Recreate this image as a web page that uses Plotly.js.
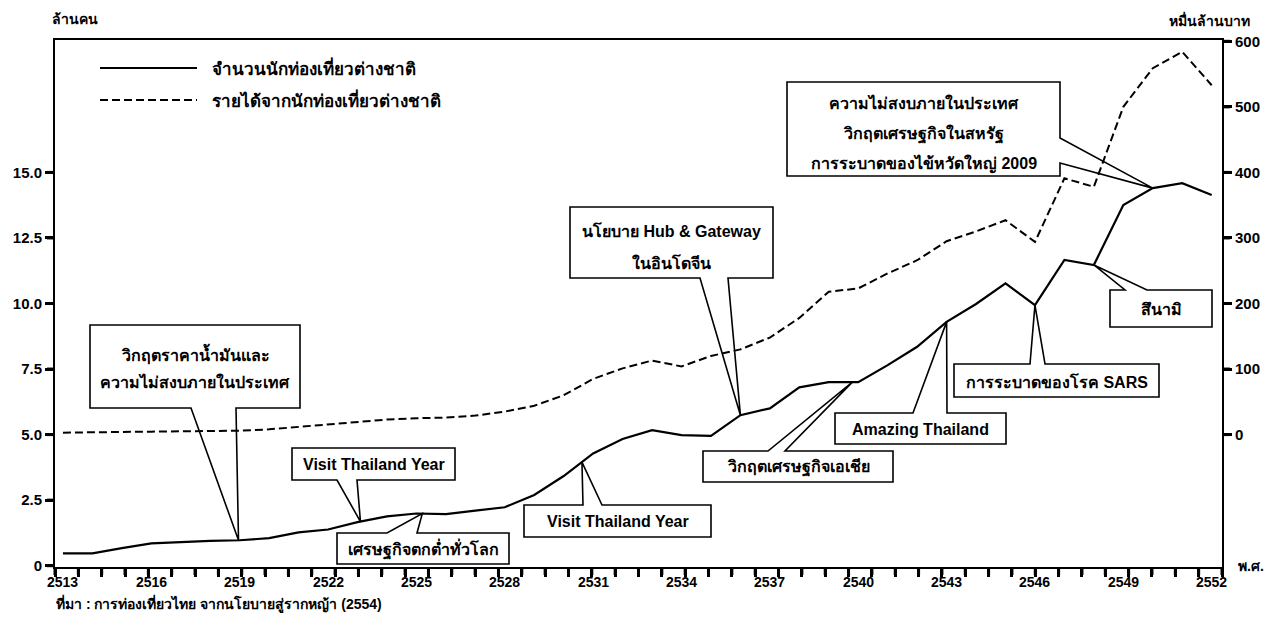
<!DOCTYPE html>
<html><head><meta charset="utf-8">
<script src="https://cdn.plot.ly/plotly-3.0.1.min.js"></script>
<style>html,body{margin:0;padding:0;background:#fff}#chart{width:1271px;height:634px}</style>
</head><body><div id="chart"></div>
<script>
// ---- data ----
const years = [2513,2514,2515,2516,2517,2518,2519,2520,2521,2522,2523,2524,2525,2526,2527,2528,2529,2530,2531,2532,2533,2534,2535,2536,2537,2538,2539,2540,2541,2542,2543,2544,2545,2546,2547,2548,2549,2550,2551,2552];
const tourists = [0.47,0.47,0.67,0.85,0.90,0.95,0.97,1.05,1.27,1.38,1.66,1.88,1.99,1.97,2.10,2.23,2.70,3.42,4.28,4.83,5.17,4.98,4.95,5.74,6.00,6.80,7.00,7.00,7.65,8.35,9.30,9.98,10.77,9.94,11.66,11.47,13.76,14.40,14.59,14.14];
const revenue = [3,3,4,4.5,5,5,6,8,12,16,20,23,25,26,29,35,44,60,85,101,113,104,120,130,148,178,218,223,246,266,295,310,327,294,391,378,500,559,584,533];
const seriesNames = ['จำนวนนักท่องเที่ยวต่างชาติ','รายได้จากนักท่องเที่ยวต่างชาติ'];
const xTickYears = [2513,2516,2519,2522,2525,2528,2531,2534,2537,2540,2543,2546,2549,2552];
const leftTickVals = [0,2.5,5,7.5,10,12.5,15];
const leftTickText = ['0','2.5','5.0','7.5','10.0','12.5','15.0'];
const rightTickVals = [0,100,200,300,400,500,600];
const leftTitle = 'ล้านคน';
const rightTitle = 'หมื่นล้านบาท';
const xUnit = 'พ.ศ.';
const sourceText = 'ที่มา : การท่องเที่ยวไทย จากนโยบายสู่รากหญ้า (2554)';

// ---- layout geometry ----
const W = 1271, H = 634;
const PL = 55, PR = 1222, PT = 40, PB = 567;
const xRange = [2512.73, 2552.35];
const yRange = [-0.05, 20.05];
const y2Range = [(yRange[0]-5)*40, (yRange[1]-5)*40];
const FONT = 'Liberation Sans, Noto Sans, DejaVu Sans, sans-serif';
const N_XTICKS = 50;
const TL = 8;

function px2x(p){return xRange[0]+(p-PL)/(PR-PL)*(xRange[1]-xRange[0]);}
function py2y(p){return yRange[0]+(PB-p)/(PB-PT)*(yRange[1]-yRange[0]);}
function paperX(p){return (p-PL)/(PR-PL);}
function paperY(p){return (PB-p)/(PB-PT);}
function interp(xs,ys,x){for(let i=0;i<xs.length-1;i++){if(x>=xs[i]&&x<=xs[i+1]){const t=(x-xs[i])/(xs[i+1]-xs[i]);return ys[i]+t*(ys[i+1]-ys[i]);}}return ys[ys.length-1];}

// callouts: box [x0,x1,top,bottom] in page px, wedge side & base points, pointer year on tourist line
const callouts = [
 {lines:['วิกฤตราคาน้ำมันและ','ความไม่สงบภายในประเทศ'], box:[90,300,325,408], side:'bottom', base:[191,236], at:2518.96, ty:[354,382]},
 {lines:['Visit Thailand Year'], box:[292,455,448,480], side:'bottom', base:[337,357], at:2523.1, ty:[464]},
 {lines:['เศรษฐกิจตกต่ำทั่วโลก'], box:[337,509,533,564], side:'top', base:[387,417], at:2525.2, ty:[549]},
 {lines:['Visit Thailand Year'], box:[524,711,505,537], side:'top', base:[583,602], at:2530.62, ty:[521]},
 {lines:['นโยบาย Hub & Gateway','ในอินโดจีน'], box:[570,773,207,278], side:'bottom', base:[700,728], at:2536.0, ty:[230,262]},
 {lines:['วิกฤตเศรษฐกิจเอเชีย'], box:[703,893,451,482], side:'top', base:[768,785], at:2539.8, ty:[467]},
 {lines:['Amazing Thailand'], box:[835,1006,413,444], side:'top', base:[913,947], at:2543.0, ty:[429]},
 {lines:['การระบาดของโรค SARS'], box:[954,1159,364,397], side:'top', base:[1030,1045], at:2546.0, ty:[381]},
 {lines:['สึนามิ'], box:[1110,1212,290,327], side:'top', base:[1125,1147], at:2548.0, ty:[309]},
 {lines:['ความไม่สงบภายในประเทศ','วิกฤตเศรษฐกิจในสหรัฐ','การระบาดของไข้หวัดใหญ่ 2009'], box:[787,1060,82,176], side:'right', base:[138,163], at:2550.0, ty:[103,134,164]}
];

const boldFont = (s)=>({family:FONT,size:s,color:'#000',weight:'bold'});
const shapes = [];
const annotations = [];
callouts.forEach(c=>{
  const [x0,x1,y0,y1] = c.box, [b1,b2] = c.base;
  let pts;
  if(c.side==='bottom') pts=[[b2,y1],[x1,y1],[x1,y0],[x0,y0],[x0,y1],[b1,y1]];
  else if(c.side==='top') pts=[[b1,y0],[x0,y0],[x0,y1],[x1,y1],[x1,y0],[b2,y0]];
  else pts=[[x1,b2],[x1,y1],[x0,y1],[x0,y0],[x1,y0],[x1,b1]];
  let path = pts.map((p,i)=>(i?'L':'M')+px2x(p[0])+','+py2y(p[1])).join(' ');
  path += ' L'+c.at+','+interp(years,tourists,c.at)+' Z';
  shapes.push({type:'path', xref:'x', yref:'y', path, line:{color:'#000',width:1.6}, fillcolor:'rgba(0,0,0,0)', layer:'above'});
  c.lines.forEach((t,i)=>annotations.push({text:t, x:px2x((x0+x1)/2), y:py2y(c.ty[i]), xref:'x', yref:'y', showarrow:false,
     font:boldFont(16), xanchor:'center', yanchor:'middle'}));
});

// tick marks drawn as paper shapes (bottom x ticks, left / right y ticks)
const tickLine = {color:'#000', width:3};
for(let k=0;k<=N_XTICKS;k++){
  const xp = k/N_XTICKS;
  shapes.push({type:'line', xref:'paper', yref:'paper', x0:xp, x1:xp, y0:0, y1:-TL/(PB-PT), line:tickLine, layer:'above'});
}
leftTickVals.forEach(v=>{
  const yp = (v-yRange[0])/(yRange[1]-yRange[0]);
  shapes.push({type:'line', xref:'paper', yref:'paper', x0:0, x1:-TL/(PR-PL), y0:yp, y1:yp, line:tickLine, layer:'above'});
});
rightTickVals.forEach(v=>{
  const yp = (v-y2Range[0])/(y2Range[1]-y2Range[0]);
  shapes.push({type:'line', xref:'paper', yref:'paper', x0:1, x1:1+TL/(PR-PL), y0:yp, y1:yp, line:tickLine, layer:'above'});
});

// x-axis year labels
xTickYears.forEach(yr=>annotations.push({text:String(yr), x:yr, xref:'x', y:paperY(582), yref:'paper',
  showarrow:false, xanchor:'center', yanchor:'middle', font:boldFont(14)}));

// manual legend
[[68,'solid',0],[100,'8px,4px',1]].forEach(([py,dash,i])=>{
  shapes.push({type:'line', xref:'paper', yref:'paper', x0:paperX(100), x1:paperX(197), y0:paperY(py), y1:paperY(py), line:{color:'#000',width:2,dash}});
  annotations.push({text:seriesNames[i], xref:'paper', yref:'paper', x:paperX(210), y:paperY(py), xanchor:'left', yanchor:'middle', showarrow:false, font:boldFont(17)});
});
annotations.push({text:leftTitle, xref:'paper', yref:'paper', x:paperX(50), y:paperY(19), xanchor:'left', yanchor:'middle', showarrow:false, font:boldFont(14)});
annotations.push({text:rightTitle, xref:'paper', yref:'paper', x:paperX(1252), y:paperY(20), xanchor:'right', yanchor:'middle', showarrow:false, font:boldFont(14)});
annotations.push({text:xUnit, xref:'paper', yref:'paper', x:paperX(1236), y:paperY(566), xanchor:'left', yanchor:'middle', showarrow:false, font:boldFont(14)});
annotations.push({text:sourceText, xref:'paper', yref:'paper', x:paperX(54), y:paperY(603), xanchor:'left', yanchor:'middle', showarrow:false, font:boldFont(14)});

const traces = [
 {x:years, y:tourists, name:seriesNames[0], type:'scatter', mode:'lines', line:{color:'#000',width:2.2}, yaxis:'y'},
 {x:years, y:revenue, name:seriesNames[1], type:'scatter', mode:'lines', line:{color:'#000',width:2,dash:'8px,4px'}, yaxis:'y2'}
];

const tickFont = boldFont(15);
const layout = {
  width:W, height:H, showlegend:false,
  margin:{l:PL, r:W-PR, t:PT, b:H-PB},
  xaxis:{range:xRange, tickmode:'linear', tick0:xRange[0], dtick:(xRange[1]-xRange[0])/N_XTICKS,
    ticks:'outside', ticklen:TL, tickwidth:3, tickcolor:'black', showticklabels:false,
    showgrid:false, zeroline:false, showline:true, linecolor:'black', linewidth:2, mirror:true},
  yaxis:{range:yRange, tickmode:'array', tickvals:leftTickVals, ticktext:leftTickText,
    ticks:'outside', ticklen:TL, tickwidth:3, tickcolor:'black', tickfont:tickFont,
    showgrid:false, zeroline:false, showline:true, linecolor:'black', linewidth:2},
  yaxis2:{range:y2Range, overlaying:'y', side:'right', tickmode:'array', tickvals:rightTickVals,
    ticks:'outside', ticklen:TL, tickwidth:3, tickcolor:'black', tickfont:tickFont,
    showgrid:false, zeroline:false, showline:true, linecolor:'black', linewidth:2},
  shapes, annotations
};
Plotly.newPlot('chart', traces, layout, {displayModeBar:false});
</script>
</body></html>
